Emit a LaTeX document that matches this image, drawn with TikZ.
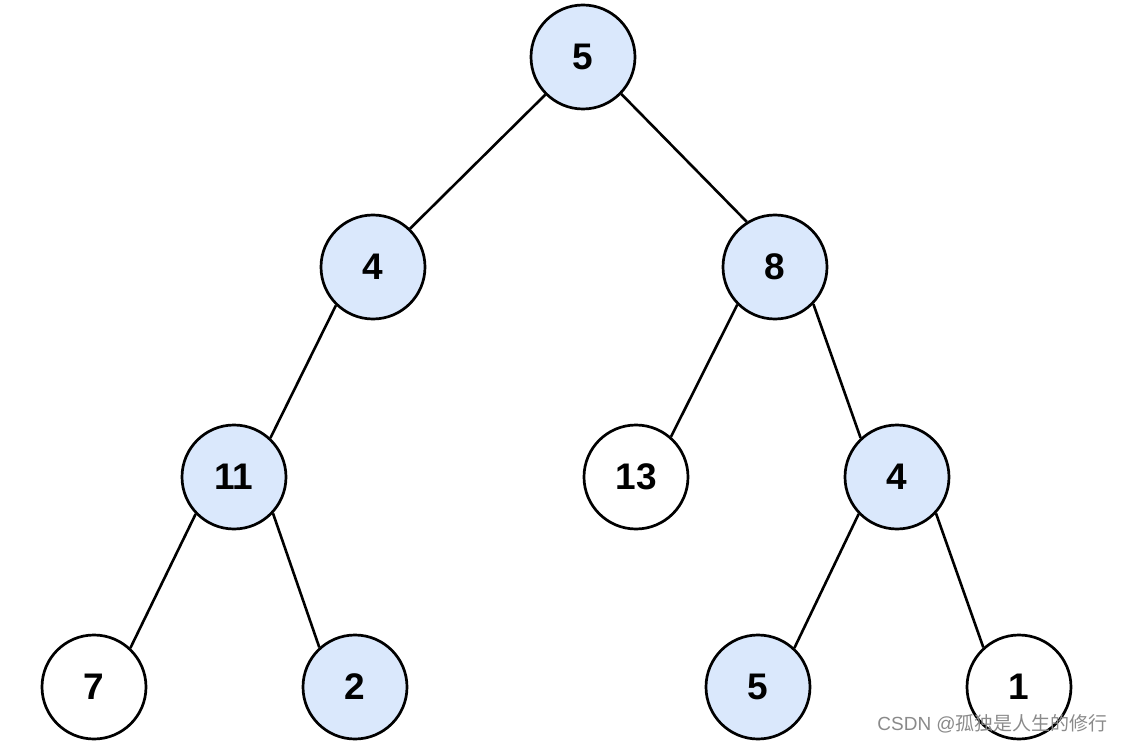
\documentclass[tikz,border=0pt]{standalone}
\usepackage{fontspec}
\setmainfont{Liberation Sans}
\newfontfamily\cjk{Noto Sans CJK SC}
\definecolor{nodeblue}{HTML}{DAE8FC}
\definecolor{wmgray}{HTML}{8A8A8A}
\begin{document}
\begin{tikzpicture}[x=1pt,y=-1pt,
  tnode/.style={circle,draw=black,line width=2.7pt,minimum size=104pt,inner sep=0pt,
    font=\fontsize{37}{40}\selectfont\bfseries},
  hl/.style={tnode,fill=nodeblue},
  pl/.style={tnode,fill=white},
  edge/.style={line width=2.6pt,draw=black}]
\useasboundingbox (0,0) rectangle (1125,746);
\node[hl] (n5) at (583,57) {5};
\node[hl] (n4) at (373,267) {4};
\node[hl] (n8) at (775,267) {8};
\node[hl] (n11) at (234,477) {11};
\node[pl] (n13) at (636,477) {13};
\node[hl] (n4b) at (897,477) {4};
\node[pl] (n7) at (94,687) {7};
\node[hl] (n2) at (355,687) {2};
\node[hl] (n5b) at (758,687) {5};
\node[pl] (n1) at (1019,687) {1};
\draw[edge] (n5.225) -- (n4.46);
\draw[edge] (n5.316) -- (n8.122);
\draw[edge] (n4.226) -- (n11.47);
\draw[edge] (n8.225) -- (n13.49);
\draw[edge] (n8.316) -- (n4b.133);
\draw[edge] (n11.224) -- (n7.47);
\draw[edge] (n11.317) -- (n2.132);
\draw[edge] (n4b.224) -- (n5b.47);
\draw[edge] (n4b.317) -- (n1.132);
\node[anchor=east,text=wmgray,inner sep=0pt,font=\fontsize{19}{22}\selectfont] (wm) at (1108,724) {CSDN @{\cjk 孤独是人生的修行}};
\end{tikzpicture}
\end{document}
